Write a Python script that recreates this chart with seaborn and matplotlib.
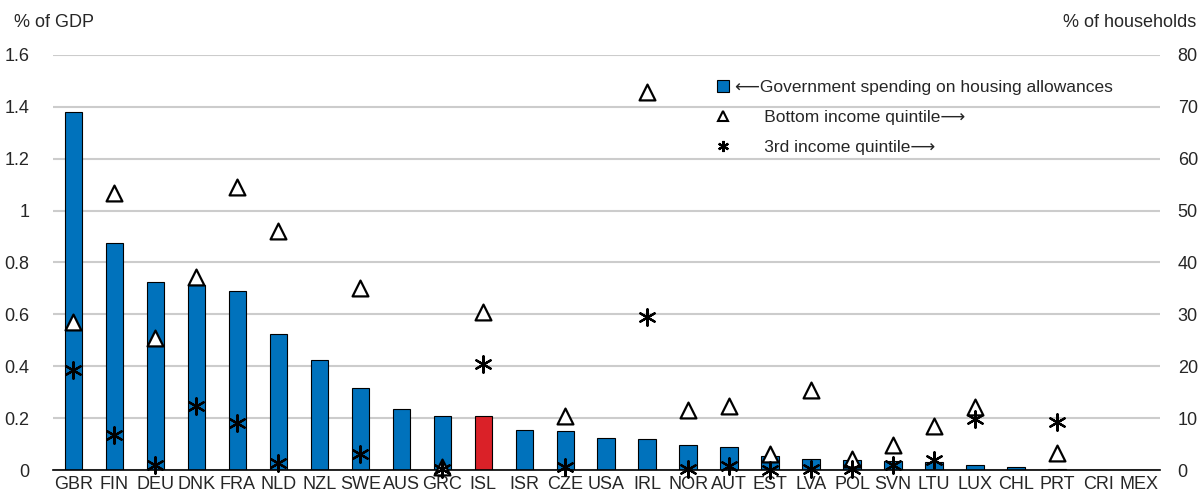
import numpy as np
import pandas as pd
import matplotlib
matplotlib.use("Agg")
import matplotlib.pyplot as plt
import seaborn as sns
from matplotlib.lines import Line2D

# %% data
countries = ["GBR", "FIN", "DEU", "DNK", "FRA", "NLD", "NZL", "SWE", "AUS", "GRC",
             "ISL", "ISR", "CZE", "USA", "IRL", "NOR", "AUT", "EST", "LVA", "POL",
             "SVN", "LTU", "LUX", "CHL", "PRT", "CRI", "MEX"]
spending = [1.38, 0.875, 0.725, 0.715, 0.69, 0.525, 0.425, 0.315, 0.235, 0.21,
            0.21, 0.155, 0.15, 0.125, 0.12, 0.095, 0.09, 0.055, 0.043, 0.038,
            0.035, 0.03, 0.018, 0.01, 0.005, 0.001, 0.001]
bottom_quintile = [28.5, 53.3, 25.5, 37.2, 54.5, 46.0, np.nan, 35.1, np.nan, 0.5,
                   30.4, np.nan, 10.4, np.nan, 72.9, 11.5, 12.4, 3.1, 15.4, 2.2,
                   4.8, 8.5, 12.2, np.nan, 3.2, np.nan, np.nan]
third_quintile = [19.2, 6.7, 1.0, 12.4, 9.1, 1.3, np.nan, 3.0, np.nan, 0.2,
                  20.5, np.nan, 0.6, np.nan, 29.5, 0.3, 0.8, 0.1, 0.3, 0.2,
                  1.0, 1.9, 9.9, np.nan, 9.3, np.nan, np.nan]

BLUE = "#0072BC"
RED = "#DA2128"

sns.set_style("white")
plt.rcParams["font.family"] = ["Liberation Sans", "DejaVu Sans"]

df = pd.DataFrame({
    "country": countries,
    "pos": np.arange(len(countries)),
    "spending": spending,
    "bottom": bottom_quintile,
    "third": third_quintile,
})
colors = [RED if c == "ISL" else BLUE for c in countries]

fig = plt.figure(figsize=(12.03, 4.99), dpi=100)
ax = fig.add_axes([0.044, 0.058, 0.92, 0.832])

sns.barplot(data=df, x="country", y="spending", hue="country", palette=colors,
            saturation=1, legend=False, width=0.43, edgecolor="black",
            linewidth=0.8, ax=ax)
ax.set_xlim(-0.5, len(countries) - 0.5)
ax.set_ylim(0, 1.6)
ax.set_yticks(np.arange(0, 1.61, 0.2))
ax.set_yticklabels([f"{v:g}" for v in np.round(np.arange(0, 1.61, 0.2), 1)])
ax.grid(axis="y", color="#cccccc", linewidth=1.5)
ax.set_axisbelow(True)
ax.set_xlabel("")
ax.set_ylabel("")
for s in ["left", "right", "top"]:
    ax.spines[s].set_visible(False)
ax.spines["bottom"].set_color("black")
ax.spines["bottom"].set_linewidth(1.2)
ax.tick_params(axis="y", length=0, labelsize=13, pad=17)
ax.tick_params(axis="x", length=0, labelsize=13, pad=4)
# small inward ticks between categories
ax.set_xticks(np.arange(-0.5, len(countries), 1), minor=True)
ax.tick_params(axis="x", which="minor", direction="in", length=5, width=1.2, color="black")

ax2 = ax.twinx()
sns.scatterplot(data=df, x="pos", y="bottom", marker="^", s=130, facecolor="white",
                edgecolor="black", linewidth=1.6, clip_on=False, ax=ax2, zorder=5)
sns.scatterplot(data=df, x="pos", y="third", marker=(6, 2, 0), s=140, color="black",
                linewidth=1.6, clip_on=False, ax=ax2, zorder=6)
ax2.set_ylim(0, 80)
ax2.set_yticks(np.arange(0, 81, 10))
ax2.set_xlim(-0.5, len(countries) - 0.5)
ax2.set_ylabel("")
ax2.set_xlabel("")
for s in ["left", "right", "top", "bottom"]:
    ax2.spines[s].set_visible(False)
ax2.tick_params(axis="y", length=0, labelsize=13, pad=13)

fig.text(0.012, 0.955, "% of GDP", fontsize=13, va="center", ha="left")
fig.text(0.994, 0.955, "% of households", fontsize=13, va="center", ha="right")

handles = [
    Line2D([], [], marker="s", linestyle="none", markersize=8, markerfacecolor=BLUE,
           markeredgecolor="black", markeredgewidth=0.8),
    Line2D([], [], marker="^", linestyle="none", markersize=7, markerfacecolor="white",
           markeredgecolor="black", markeredgewidth=1.5),
    Line2D([], [], marker=(6, 2, 0), linestyle="none", markersize=8, color="black",
           markeredgewidth=1.6),
]
labels = ["⟵Government spending on housing allowances",
          "      Bottom income quintile⟶",
          "      3rd income quintile⟶"]
fig.legend(handles, labels, loc="upper left", bbox_to_anchor=(0.594, 0.84),
           frameon=False, fontsize=12.5, handlelength=1.0, handletextpad=0.2,
           labelspacing=0.85, borderpad=0, borderaxespad=0)

fig.savefig("out.png", dpi=100)
